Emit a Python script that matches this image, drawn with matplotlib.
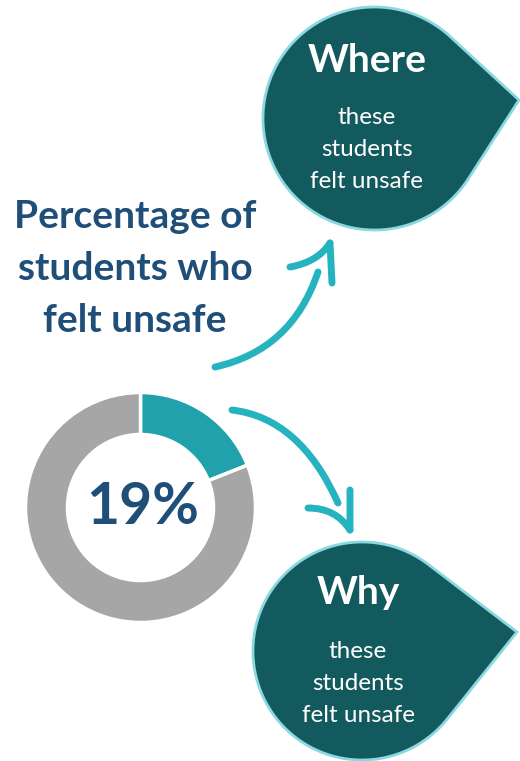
import numpy as np
import matplotlib
matplotlib.use("Agg")
import matplotlib.pyplot as plt
from matplotlib.patches import Polygon, PathPatch
from matplotlib.path import Path

# ---- data ----
shares = [19, 81]
share_labels = ["Felt unsafe", "Did not feel unsafe"]
center_label = "19%"
title_lines = ["Percentage of", "students who", "felt unsafe"]
drop_heads = ["Where", "Why"]
drop_body = ["these", "students", "felt unsafe"]

TEAL = "#21A1AC"
GRAY = "#A6A6A6"
NAVY = "#1F4E79"
DARK = "#135A5E"
EDGE = "#8AD8E0"
ARROW = "#26B3C0"
FONT = "Lato"

W, H = 520, 761
fig = plt.figure(figsize=(W / 100, H / 100), dpi=100)
ax = fig.add_axes([0, 0, 1, 1])
ax.set_xlim(0, W)
ax.set_ylim(H, 0)
ax.axis("off")

# ---- donut ----
cx, cy, R = 140.5, 507.5, 115
dax = fig.add_axes([(cx - R) / W, (H - cy - R) / H, 2 * R / W, 2 * R / H])
dax.pie(shares, colors=[TEAL, GRAY], startangle=90, counterclock=False,
        radius=1.0, wedgeprops=dict(width=0.365, edgecolor="white", linewidth=2.5))
dax.set_xlim(-1.0, 1.0)
dax.set_ylim(-1.0, 1.0)
dax.axis("off")
dax.text(0.02, 0, center_label, ha="center", va="center", color=NAVY,
         fontsize=41, fontweight="bold", family=FONT)

# ---- title ----
for i, line in enumerate(title_lines):
    ax.text(135, 217 + i * 52, line, ha="center", va="center", color=NAVY,
            fontsize=28, fontweight="bold", family=FONT)


# ---- teardrops ----
def teardrop(cxx, cyy, r, tip):
    tx, ty = tip
    d = np.hypot(tx - cxx, ty - cyy)
    th0 = np.arctan2(ty - cyy, tx - cxx)
    a = np.arccos(r / d)
    ang = np.linspace(th0 + a, th0 - a + 2 * np.pi, 200)
    pts = np.column_stack([cxx + r * np.cos(ang), cyy + r * np.sin(ang)])
    pts = np.vstack([pts, [tx, ty]])
    return Polygon(pts, closed=True, facecolor=DARK, edgecolor=EDGE,
                   linewidth=2, joinstyle="miter")


drops = [((374.5, 118.5, 111.5, (519, 100)), (367, 60), 118),
         ((362, 651, 109, (517, 632)), (358, 593), 651)]
for (params, head_xy, body_y), head in zip(drops, drop_heads):
    ax.add_patch(teardrop(*params))
    ax.text(head_xy[0], head_xy[1], head, ha="center", va="center",
            color="white", fontsize=28, fontweight="bold", family=FONT)
    for j, line in enumerate(drop_body):
        ax.text(head_xy[0], body_y + j * 32, line, ha="center", va="center",
                color="white", fontsize=17.5, family=FONT)


# ---- arrows ----
def stroke(p0, p1, p2):
    path = Path([p0, p1, p2], [Path.MOVETO, Path.CURVE3, Path.CURVE3])
    ax.add_patch(PathPatch(path, facecolor="none", edgecolor=ARROW,
                           linewidth=5, capstyle="round", joinstyle="round"))


# upper arrow
stroke((215, 367), (292, 350), (318, 272))
stroke((290, 267), (318, 262), (330, 243))
stroke((330, 243), (331, 263), (332, 283))
# lower arrow
stroke((232, 410), (300, 418), (338, 503))
stroke((308, 508), (336, 508), (350, 530))
stroke((350, 490), (350, 510), (350, 530))

fig.savefig("out.png", dpi=100, facecolor="white")
